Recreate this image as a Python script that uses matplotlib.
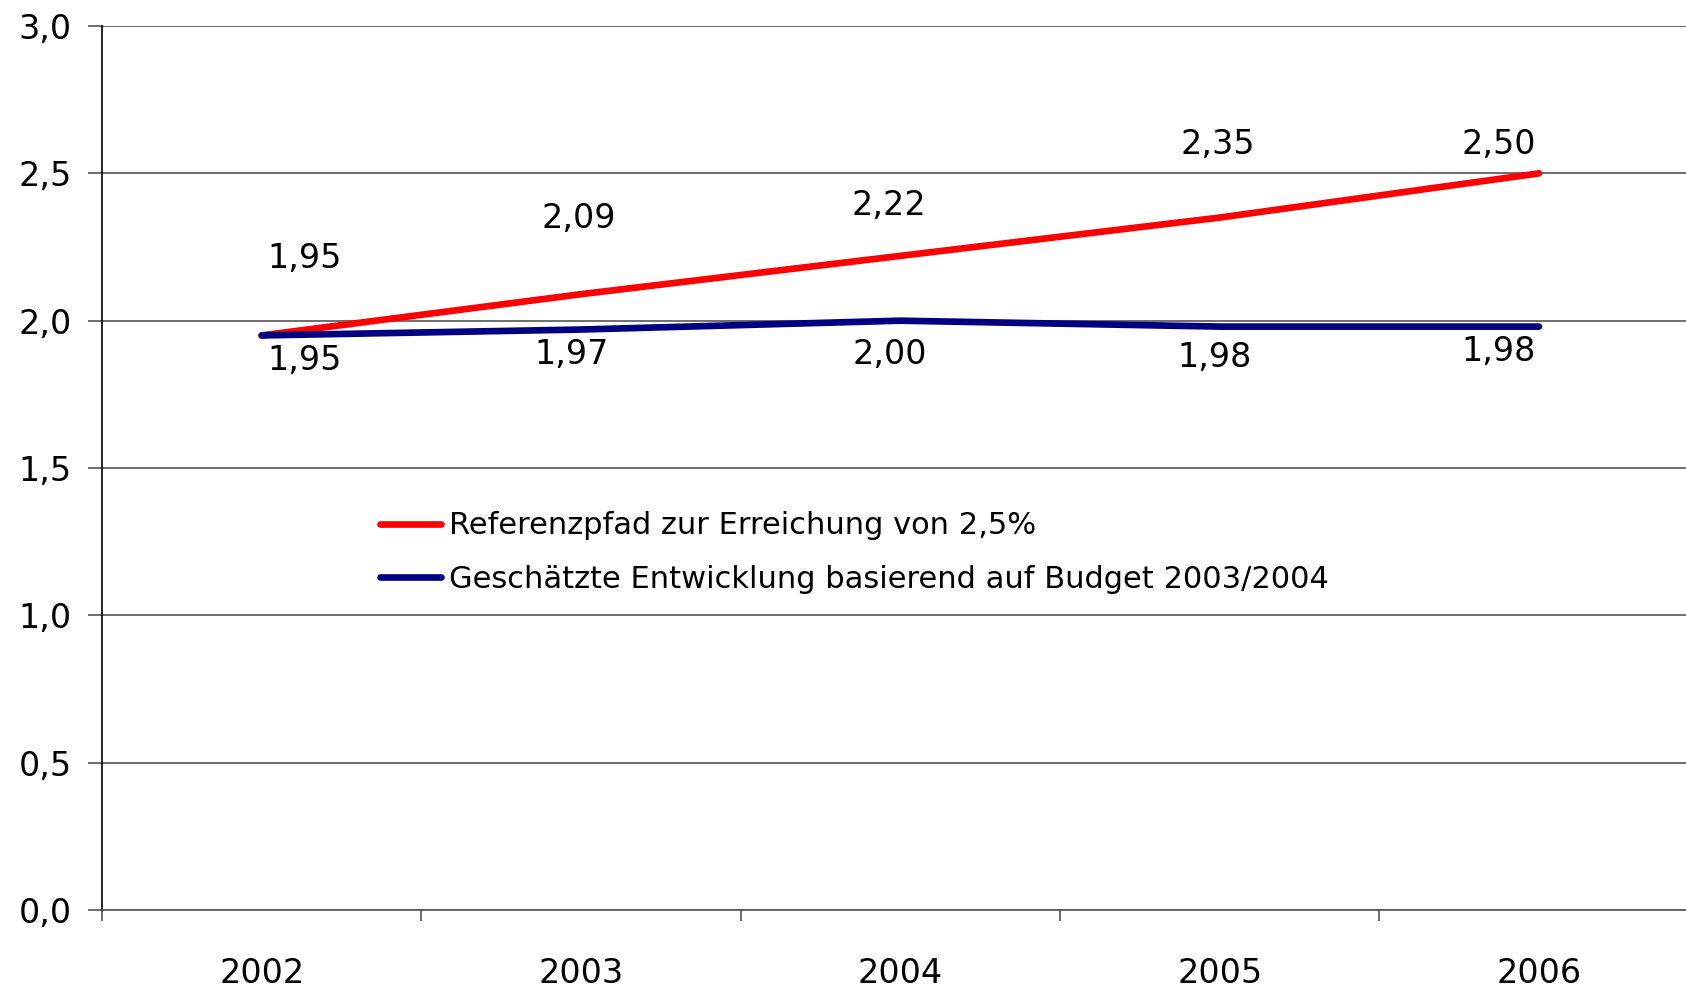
import numpy as np
import matplotlib
matplotlib.use("Agg")
import matplotlib.pyplot as plt

# Daten
jahre = ["2002", "2003", "2004", "2005", "2006"]
referenzpfad = [1.95, 2.09, 2.22, 2.35, 2.50]
budget = [1.95, 1.97, 2.00, 1.98, 1.98]
label_ref = "Referenzpfad zur Erreichung von 2,5%"
label_budget = "Geschätzte Entwicklung basierend auf Budget 2003/2004"
y_ticks = [0.0, 0.5, 1.0, 1.5, 2.0, 2.5, 3.0]

# Versatz der Datenbeschriftungen (Pixel)
ref_offsets = [(43, 77), (-2, 76), (-11, 50), (-2, 73), (-40, 29)]
budget_offsets = [(43, -25), (-9, -25), (-11, -34), (-5, -31), (-40, -25)]

plt.rcParams['font.family'] = ['DejaVu Sans']

fig = plt.figure(figsize=(16.86, 9.90), dpi=100)
ax = fig.add_axes([0.0605, 0.0808, 0.947, 0.8929])

x = np.arange(len(jahre))
rot = "#FF0000"
blau = "#000080"

ax.plot(x, referenzpfad, color=rot, lw=4.8, solid_capstyle='round', label=label_ref, zorder=3)
ax.plot(x, budget, color=blau, lw=4.8, solid_capstyle='round', label=label_budget, zorder=3)

for i, v in enumerate(referenzpfad):
    ax.annotate(f"{v:.2f}".replace(".", ","), xy=(i, v), xytext=ref_offsets[i],
                textcoords='offset pixels', ha='center', va='center', fontsize=24)
for i, v in enumerate(budget):
    ax.annotate(f"{v:.2f}".replace(".", ","), xy=(i, v), xytext=budget_offsets[i],
                textcoords='offset pixels', ha='center', va='center', fontsize=24)

ax.set_xlim(-0.5, len(jahre) - 0.5)
ax.set_ylim(0, 3.0)

# y-Achse
ax.set_yticks(y_ticks)
ax.set_yticklabels([f"{t:.1f}".replace(".", ",") for t in y_ticks], fontsize=24)
ax.yaxis.grid(True, color='#555555', lw=1.2)
ax.set_axisbelow(True)
ax.tick_params(axis='y', length=10, width=1.2, color='#555555', pad=12)

# x-Achse: Beschriftung in der Mitte, Striche an den Grenzen
ax.set_xticks(x)
ax.set_xticklabels(jahre, fontsize=24)
ax.set_xticks(np.arange(-0.5, len(jahre) + 0.5, 1), minor=True)
ax.tick_params(axis='x', which='major', length=0, pad=34)
ax.tick_params(axis='x', which='minor', length=8, width=1.2, color='#555555')

for s in ['top', 'right']:
    ax.spines[s].set_visible(False)
ax.spines['bottom'].set_color('#555555')
ax.spines['bottom'].set_linewidth(1.2)
ax.spines['left'].set_color('black')
ax.spines['left'].set_linewidth(1.2)

ax.legend(loc='upper left', bbox_to_anchor=(0.2254, 0.4836), bbox_transform=fig.transFigure,
          frameon=False, fontsize=22, handlelength=2.0, handletextpad=0.25,
          labelspacing=0.8, borderpad=0, borderaxespad=0)

plt.savefig("out.png", dpi=100)
plt.close()
